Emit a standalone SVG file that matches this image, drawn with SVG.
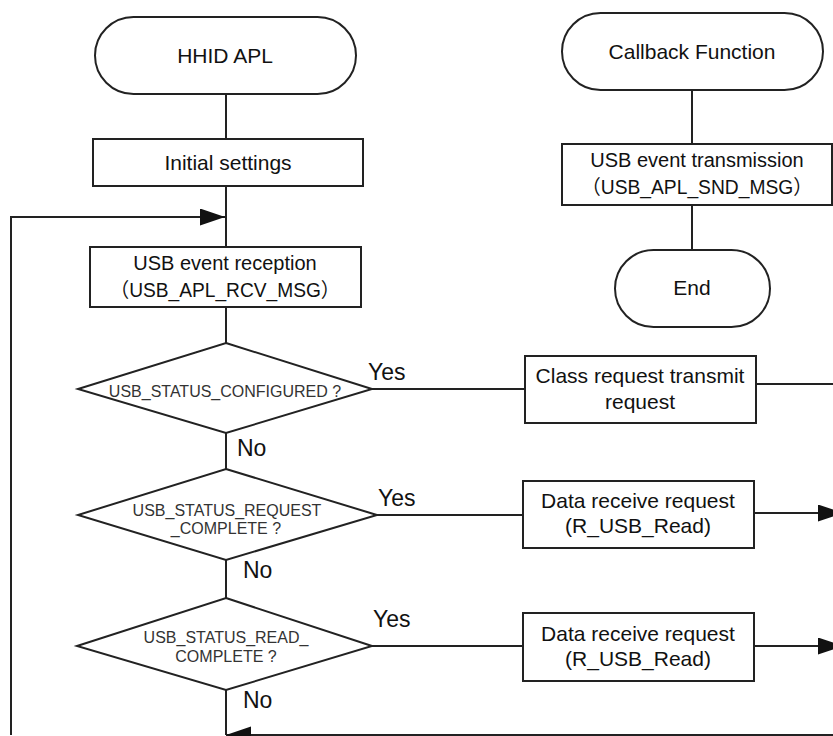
<svg xmlns="http://www.w3.org/2000/svg" width="833" height="736" viewBox="0 0 833 736">
<defs>
<style>
.shape{fill:#fff;stroke:#222;stroke-width:2}
.conn{fill:none;stroke:#222;stroke-width:2}
text{font-family:'Liberation Sans','Noto Sans CJK JP',Arial,sans-serif;fill:#111;text-anchor:middle}
.t{font-size:21px}
.j{font-size:20px}
.d{font-size:16px;fill:#333}
.lbl{font-size:23px;text-anchor:start}
</style>
<marker id="arr" markerUnits="userSpaceOnUse" markerWidth="26" markerHeight="18" refX="25" refY="8.5" orient="auto">
<path d="M0,0 L25,8.5 L0,17 z" fill="#111"/>
</marker>
</defs>
<rect width="833" height="736" fill="#fff"/>
<g id="connectors">
<path class="conn" d="M226,94 V139"/>
<path class="conn" d="M226,186 V247"/>
<path class="conn" d="M226,307 V343"/>
<path class="conn" d="M226,433 V469"/>
<path class="conn" d="M226,560 V598"/>
<path class="conn" d="M226,690 V735"/>
<path class="conn" d="M11,735 V217 H225" marker-end="url(#arr)"/>
<path class="conn" d="M845,735 H226" marker-end="url(#arr)"/>
<path class="conn" d="M372,389 H525"/>
<path class="conn" d="M377,515 H523"/>
<path class="conn" d="M372,646 H523"/>
<path class="conn" d="M756,384 H833"/>
<path class="conn" d="M754,513 H843" marker-end="url(#arr)"/>
<path class="conn" d="M754,646 H843" marker-end="url(#arr)"/>
<path class="conn" d="M692,90 V144"/>
<path class="conn" d="M692,205 V250"/>
<text class="lbl" x="368" y="380">Yes</text>
<text class="lbl" x="378" y="506">Yes</text>
<text class="lbl" x="373" y="627">Yes</text>
<text class="lbl" x="237" y="456">No</text>
<text class="lbl" x="243" y="578">No</text>
<text class="lbl" x="243" y="708">No</text>
</g>
<g id="hhid-apl">
<rect class="shape" x="95" y="17" width="261" height="77" rx="38.5"/>
<text class="t" x="225" y="63">HHID APL</text>
</g>
<g id="initial-settings">
<rect class="shape" x="93" y="139" width="270" height="47"/>
<text class="t" x="228" y="170">Initial settings</text>
</g>
<g id="event-reception">
<rect class="shape" x="90" y="247" width="271" height="60"/>
<text class="j" x="225" y="270">USB event reception</text>
<text class="j" x="225" y="297" textLength="230" lengthAdjust="spacingAndGlyphs">（USB_APL_RCV_MSG）</text>
</g>
<g id="dec-configured">
<polygon class="shape" points="226,343 372,389 226,433 78,389"/>
<text class="d" x="225" y="397">USB_STATUS_CONFIGURED ?</text>
</g>
<g id="dec-request-complete">
<polygon class="shape" points="226,469 377,515 226,560 78,515"/>
<text class="d" x="227" y="516">USB_STATUS_REQUEST</text>
<text class="d" x="226" y="534">_COMPLETE ?</text>
</g>
<g id="dec-read-complete">
<polygon class="shape" points="226,598 372,646 226,690 77,646"/>
<text class="d" x="226" y="643">USB_STATUS_READ_</text>
<text class="d" x="226" y="662">COMPLETE ?</text>
</g>
<g id="class-request">
<rect class="shape" x="525" y="356" width="231" height="67"/>
<text class="t" x="640" y="383">Class request transmit</text>
<text class="t" x="640" y="409">request</text>
</g>
<g id="data-receive-1">
<rect class="shape" x="523" y="481" width="231" height="67"/>
<text class="t" x="638" y="508">Data receive request</text>
<text class="t" x="638" y="533">(R_USB_Read)</text>
</g>
<g id="data-receive-2">
<rect class="shape" x="523" y="613" width="231" height="68"/>
<text class="t" x="638" y="641">Data receive request</text>
<text class="t" x="638" y="666">(R_USB_Read)</text>
</g>
<g id="callback">
<rect class="shape" x="562" y="13" width="261" height="77" rx="38.5"/>
<text class="t" x="692" y="59">Callback Function</text>
</g>
<g id="event-transmission">
<rect class="shape" x="562" y="144" width="270" height="61"/>
<text class="j" x="697" y="167">USB event transmission</text>
<text class="j" x="697" y="194" textLength="231" lengthAdjust="spacingAndGlyphs">（USB_APL_SND_MSG）</text>
</g>
<g id="end">
<rect class="shape" x="615" y="250" width="155" height="77" rx="38.5"/>
<text class="t" x="692" y="295">End</text>
</g>
</svg>
